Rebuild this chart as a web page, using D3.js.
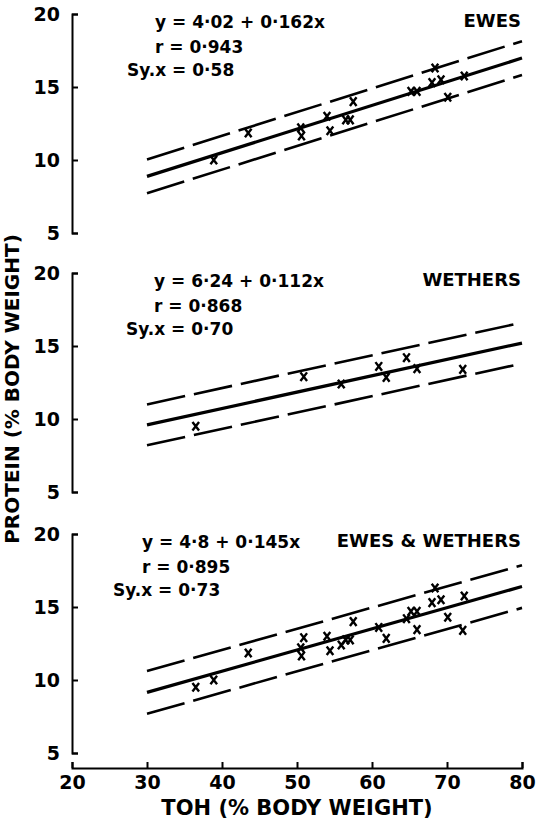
<!DOCTYPE html>
<html>
<head>
<meta charset="utf-8">
<script src="https://cdn.jsdelivr.net/npm/d3@7"></script>
<style>
  body { margin: 0; background: #fff; }
  svg text { font-family: "DejaVu Sans", sans-serif; font-weight: bold; fill: #000; }
</style>
</head>
<body>
<svg id="chart" width="540" height="826"></svg>
<script>
// Total organ/hide (TOH) and protein, both as % of body weight
const eweTOH      = [38.9, 43.5, 50.5, 50.6, 54.0, 54.4, 56.5, 57.1, 57.5, 65.2, 66.0, 68.4, 68.0, 69.2, 70.1, 72.3];
const eweProtein  = [10.0, 11.85, 12.2, 11.65, 13.0, 12.0, 12.75, 12.75, 14.0, 14.7, 14.7, 16.3, 15.3, 15.5, 14.3, 15.75];
const wetherTOH     = [36.5, 50.9, 55.9, 60.9, 61.9, 64.6, 66.0, 72.1];
const wetherProtein = [9.5, 12.9, 12.4, 13.6, 12.85, 14.2, 13.45, 13.4];

// Regression summaries, one per panel
const panelNames = ["EWES", "WETHERS", "EWES & WETHERS"];
const intercepts = [4.02, 6.24, 4.8];
const slopes     = [0.162, 0.112, 0.145];
const rValues    = [0.943, 0.868, 0.895];
const syxValues  = [0.58, 0.70, 0.73];
const fitRange   = [30, 80];

const xTicks = [20, 30, 40, 50, 60, 70, 80];
const yTicks = [5, 10, 15, 20];

// Layout
const svg = d3.select("#chart");
const xLeft = 72, xRight = 522;
const panelTops = [14, 273, 534];
const panelH = 219;
const eqX = [155, 154, 142];
const syxX = [127, 126, 113];

const x = d3.scaleLinear().domain([20, 80]).range([xLeft, xRight]);

const toPoints = (xs, ys) => xs.map((v, i) => ({ x: v, y: ys[i] }));
const ewes = toPoints(eweTOH, eweProtein);
const wethers = toPoints(wetherTOH, wetherProtein);
const panelData = [ewes, wethers, ewes.concat(wethers)];

const dec = s => s.replace(".", "·");

panelNames.forEach((name, i) => {
  const top = panelTops[i];
  const y = d3.scaleLinear().domain([5, 20]).range([top + panelH, top]);
  const g = svg.append("g");

  // bracket-style y axis: ticks point inward, labels to the left
  const ax = g.append("g")
    .attr("transform", `translate(${xLeft},0)`)
    .call(d3.axisLeft(y).tickValues(yTicks).tickSize(-6).tickPadding(12).tickFormat(d3.format("d")));
  ax.selectAll("path, line").attr("stroke", "#000").attr("stroke-width", 2);
  ax.selectAll("text").attr("font-size", 19).attr("fill", "#000");
  ax.attr("font-family", null).attr("font-size", null);

  const a = intercepts[i], b = slopes[i], s = syxValues[i];
  const fit = off => fitRange.map(t => ({ t, v: a + b * t + off }));
  const lineFor = off => d3.line().x(d => x(d.t)).y(d => y(d.v))(fit(off));

  // ±2 Sy.x limits
  [2 * s, -2 * s].forEach(off => {
    g.append("path")
      .attr("d", lineFor(off))
      .attr("fill", "none")
      .attr("stroke", "#000")
      .attr("stroke-width", 2.6)
      .attr("stroke-dasharray", "39,9");
  });
  // fitted line
  g.append("path")
    .attr("d", lineFor(0))
    .attr("fill", "none")
    .attr("stroke", "#000")
    .attr("stroke-width", 3.2);

  // observations
  g.selectAll("path.obs").data(panelData[i]).enter().append("path")
    .attr("class", "obs")
    .attr("transform", d => `translate(${x(d.x)},${y(d.y)})`)
    .attr("d", "M-3.3,-4.3L3.3,4.3M3.3,-4.3L-3.3,4.3")
    .attr("stroke", "#000")
    .attr("stroke-width", 2.4)
    .attr("fill", "none");

  // equation block
  const fs = 17;
  g.append("text").attr("x", eqX[i]).attr("y", top + 14).attr("font-size", fs)
    .text(`y = ${dec(String(a))} + ${dec(String(b))}x`);
  g.append("text").attr("x", eqX[i]).attr("y", top + 38.5).attr("font-size", fs)
    .text(`r = ${dec(rValues[i].toFixed(3))}`);
  g.append("text").attr("x", syxX[i]).attr("y", top + 61.5).attr("font-size", fs)
    .text(`Sy.x = ${dec(s.toFixed(2))}`);

  // panel title
  g.append("text").attr("x", 521).attr("y", top + 13).attr("font-size", 18)
    .attr("text-anchor", "end").text(name);
});

// shared x axis
const xa = svg.append("g")
  .attr("transform", "translate(0,768)")
  .call(d3.axisBottom(x).tickValues(xTicks).tickSize(-6).tickPadding(8).tickFormat(d3.format("d")));
xa.selectAll("path, line").attr("stroke", "#000").attr("stroke-width", 2);
xa.selectAll("text").attr("font-size", 19).attr("fill", "#000");
xa.attr("font-family", null).attr("font-size", null);

svg.append("text")
  .attr("x", 297).attr("y", 815)
  .attr("text-anchor", "middle").attr("font-size", 21)
  .text("TOH (% BODY WEIGHT)");

svg.append("text")
  .attr("transform", "translate(19,389) rotate(-90)")
  .attr("text-anchor", "middle").attr("font-size", 20)
  .text("PROTEIN (% BODY WEIGHT)");
</script>
</body>
</html>
